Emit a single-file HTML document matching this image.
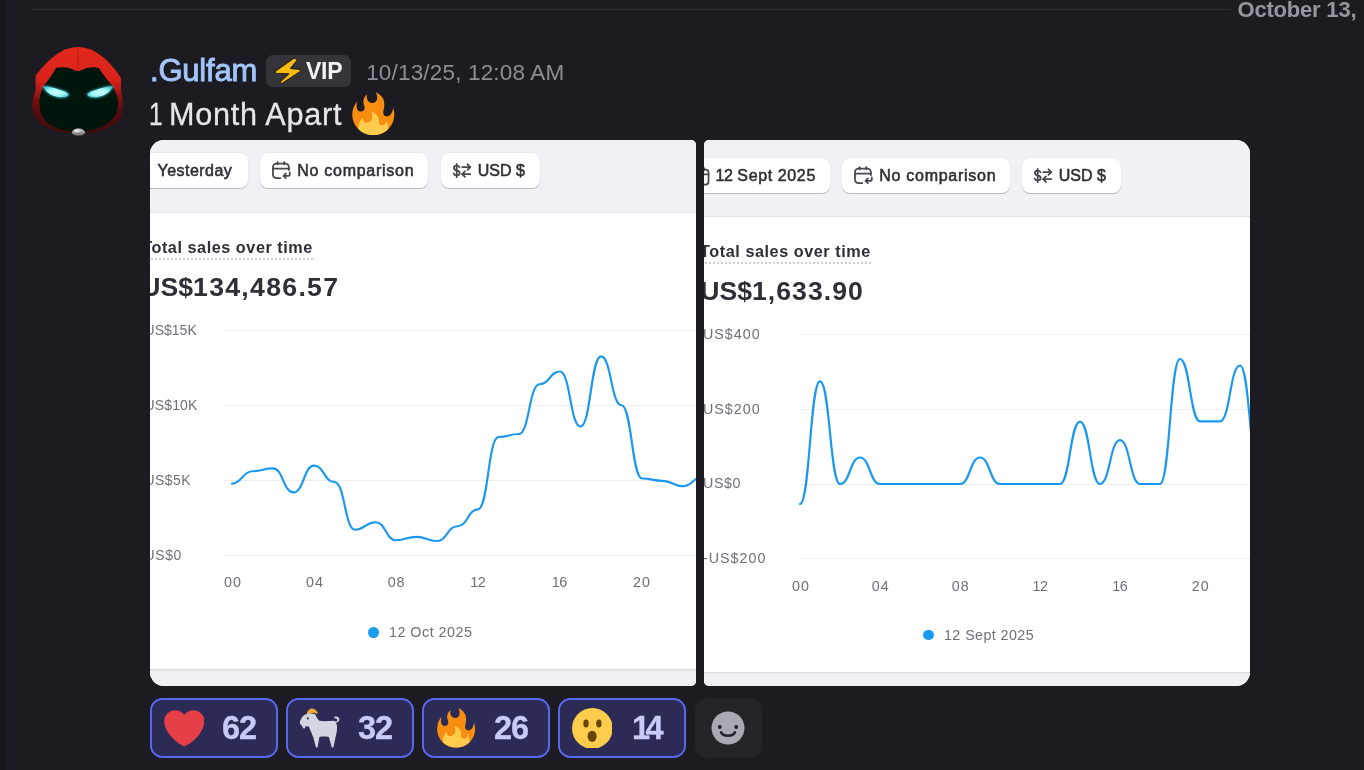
<!DOCTYPE html>
<html lang="en"><head><meta charset="utf-8"><title>Discord message</title>
<style>
*{box-sizing:border-box;margin:0;padding:0}
html,body{width:1364px;height:770px;overflow:hidden;background:#1c1b21}
body{position:relative;font-family:"Liberation Sans",sans-serif;color:#e6e5ea}
.abs{position:absolute;white-space:nowrap;line-height:1}
.stripe{left:0;top:0;width:7px;height:770px;background:linear-gradient(90deg,#151419 0,#151419 70%,#1c1b21 100%)}
.divider{left:32px;top:9px;width:1199px;height:1px;background:#302f36}
.date{left:1237.5px;top:-0.8px;font-size:22px;font-weight:700;color:#97969e;letter-spacing:-0.2px}
.uname{left:150px;top:55px;font-size:31px;color:#a2c5fc;-webkit-text-stroke:0.9px #a2c5fc;letter-spacing:-0.2px}
.vip{left:266px;top:55px;width:85px;height:32px;border-radius:7px;background:#35343b}
.viptxt{left:305.9px;top:59.5px;font-size:23px;letter-spacing:-0.2px;font-weight:700;color:#f2f1f5}
.ts{left:366.2px;top:62px;font-size:22.5px;color:#8f8e97;letter-spacing:0.17px}
.msg{top:98.9px;font-size:30.6px;color:#e6e5ea;-webkit-text-stroke:0.3px #e6e5ea}
.img{position:absolute;overflow:hidden;background:#fff}
.img .in{position:absolute}
.hdr{background:#f1f0f5}
.btn{background:#fff;border-radius:8px;box-shadow:0 1px 0 0 #b9b8bf,0 0 0 0.5px #e4e3e8;height:35px}
.bt{font-size:16px;color:#302f35;-webkit-text-stroke:0.55px #302f35}
.ttl{font-size:16.2px;letter-spacing:0.56px;font-weight:700;color:#302e36}
.big{font-size:26.6px;font-weight:700;color:#302e36}
.ax{font-size:14.3px;color:#706f78;letter-spacing:1px}
.xc{width:40px;text-align:center}
.grid{height:1px;background:#efeef3}
.pill{top:698px;width:128px;height:60px;border-radius:12.5px;background:#2c2b55;box-shadow:inset 0 0 0 1.9px #5a68f2}
.cnt{top:711.8px;font-size:32.6px;letter-spacing:-1px;font-weight:700;color:#c8cbf7;-webkit-text-stroke:0.3px #c8cbf7}
.add{left:695px;top:698px;width:67px;height:60px;border-radius:12px;background:#24232a}
</style></head><body>
<div class="abs stripe"></div>
<div class="abs divider"></div>
<div class="abs date">October 13,</div>

<!-- avatar -->
<svg class="abs" style="left:28px;top:40px" width="100" height="100" viewBox="28 40 100 100">
<defs>
<linearGradient id="hood" gradientUnits="userSpaceOnUse" x1="0" y1="47" x2="0" y2="135"><stop offset="0" stop-color="#e3291e"/><stop offset="0.36" stop-color="#d9231a"/><stop offset="0.47" stop-color="#b81b15"/><stop offset="0.58" stop-color="#821210"/><stop offset="0.74" stop-color="#540c0c"/><stop offset="1" stop-color="#380909"/></linearGradient>
<radialGradient id="eye" cx="0.5" cy="0.55" r="0.6"><stop offset="0" stop-color="#d2fffd"/><stop offset="0.6" stop-color="#9af4f5"/><stop offset="1" stop-color="#4cc6ce"/></radialGradient>
<linearGradient id="clasp" x1="0" y1="0" x2="0" y2="1"><stop offset="0" stop-color="#d4d4d4"/><stop offset="1" stop-color="#686868"/></linearGradient>
<filter id="soft" x="-10%" y="-10%" width="120%" height="120%"><feGaussianBlur stdDeviation="0.5"/></filter>
<filter id="glow" x="-20%" y="-40%" width="140%" height="180%"><feGaussianBlur stdDeviation="0.9"/></filter>
</defs>
<g filter="url(#soft)">
<path d="M78,47.1 C71,47.4 65.5,49.2 62,51 C56.5,54 51.5,58 47.5,62.1 L41,69 L35.8,75 C35.4,80 35.6,85 35.8,89.4 C34.2,94 32.8,98 32.5,102.3 C32.4,107 32.8,111.5 33.8,115.3 C36,120 39.5,123.2 43.6,125.7 C50.5,129.4 58.5,131.8 67,132.9 L89,132.9 C97.5,131.8 105.500,129.400 112.4,125.7 C116.5,123.2 120,120 121.5,115.3 C122.6,111.5 123,107 122.8,102.3 C122.4,98 121.4,93 120.9,89 C121.2,85 121.2,81 120.9,77.7 L115,69.500 L108.500,62.100 C104.500,58 99.5,54 94,51 C90.5,49.2 85,47.4 78,47.100Z" fill="url(#hood)"/>
<path d="M78,47.5 L78,70" stroke="#b61b14" stroke-width="0.7" fill="none"/>
<path d="M55.900,67.900 C60,66.900 64.500,66.900 68.500,67.800 C72,68.800 75,71.100 78,71.200 C81,71.100 84,68.800 87.500,67.800 C91.500,66.900 95,66.900 98.800,67.900 C102,73 106.500,79 111.100,84.200 C114,88.500 116.600,93.500 117.600,98.400 C118.200,103.500 117.800,108.500 116.300,112.700 C114,117.500 110.500,121.500 105.900,124.400 C100,127.800 93.500,129.900 86.400,130.900 L69.600,130.900 C62.500,129.900 56,127.800 50.100,124.400 C45.500,121.500 42.500,117.500 41,112.700 C39.600,108.500 39.200,103.500 39.700,98.400 C40.200,94 41.500,90 44.900,84.200 C49.500,79 53,73 55.900,67.900Z" fill="#021211"/>
</g>
<g filter="url(#glow)" opacity="0.9">
<path d="M42.3,86.1 C47,85.6 51,86.400 54,87.400 C58,88.600 61.500,89.600 64.400,90.600 C66.600,91.700 68.500,93 69.600,94.500 C68.800,95.800 68,96.600 67,97.100 C64,98.200 61,98.200 57.900,97.800 C54,97 50.500,95.300 47.500,93.200 C45.200,91.200 43.500,88.800 42.300,86.100Z" fill="#35b5c0"/>
<path d="M113.700,86.100 C109,85.600 105,86.400 102,87.400 C98,88.600 94.500,89.600 91.600,90.600 C89.400,91.700 87.500,93 86.400,94.500 C87.200,95.800 88,96.600 89,97.100 C92,98.200 95,98.200 98.100,97.800 C102,97 105.500,95.300 108.500,93.200 C110.800,91.200 112.500,88.800 113.700,86.100Z" fill="#35b5c0"/>
</g>
<path d="M43.300,86.600 C47,86.200 51,87 54,88 C58,89.200 61.500,90.200 64,91.200 C66,92.200 67.600,93.300 68.600,94.500 C68,95.500 67.300,96.100 66.500,96.500 C64,97.400 61,97.400 58,97 C54.300,96.300 51,94.700 48.200,92.700 C46,90.900 44.400,88.900 43.300,86.600Z" fill="url(#eye)"/>
<path d="M112.700,86.600 C109,86.200 105,87 102,88 C98,89.200 94.500,90.200 92,91.200 C90,92.200 88.400,93.300 87.400,94.500 C88,95.500 88.700,96.100 89.500,96.500 C92,97.400 95,97.400 98,97 C101.700,96.300 105,94.700 107.800,92.700 C110,90.900 111.600,88.900 112.700,86.600Z" fill="url(#eye)"/>
<ellipse cx="78.400" cy="132.200" rx="6.500" ry="3.600" fill="url(#clasp)"/>
<ellipse cx="77" cy="131.100" rx="2.800" ry="1.300" fill="#f4f4f4" opacity="0.75"/>
</svg>

<div class="abs uname">.Gulfam</div>
<div class="abs vip"></div>
<svg class="abs" style="left:270px;top:54px" width="36" height="34" viewBox="270 54 36 34"><path d="M294,58 L275.2,71.2 L275.6,73.2 L288.8,73.8 L279.3,82.6 L281.8,83.6 L300.4,71.4 L300,69.4 L290.6,68.4 L297.6,59.6 Z" fill="#f8bb12" stroke="#2b2213" stroke-width="1.1" stroke-linejoin="round"/></svg>
<div class="abs viptxt">VIP</div>
<div class="abs ts">10/13/25, 12:08 AM</div>
<div class="abs msg" style="left:149px;transform:scaleX(0.8);transform-origin:left top">1</div><div class="abs msg" style="left:169px;letter-spacing:0.75px">Month Apart</div>
<svg class="abs" style="left:351.3px;top:92.4px" width="44.6" height="43.1" viewBox="0 0 36 36" preserveAspectRatio="none"><use href="#fire"/></svg>

<svg width="0" height="0" style="position:absolute"><defs>
<g id="fire"><path fill="#f88e0f" d="M35 19c0-2.062-.367-4.039-1.040-5.868-.46 5.389-3.333 8.157-6.335 6.868-2.812-1.208-.917-5.917-.777-8.164.236-3.809-.012-8.169-6.931-11.794 2.875 5.5.333 8.917-2.333 9.125-2.958.231-5.667-2.542-4.667-7.042-3.238 2.386-3.332 6.402-2.333 9 1.042 2.708-.042 4.958-2.583 5.208-2.840.280-4.418-3.041-2.963-8.333C2.520 10.965 1 14.805 1 19c0 9.389 7.611 17 17 17s17-7.611 17-17z"/><path fill="#FFCC4D" d="M28.394 23.999c.148 3.084-2.561 4.293-4.019 3.709-2.106-.843-1.541-2.291-2.083-5.291s-2.625-5.083-5.708-6c2.250 6.333-1.247 8.667-3.080 9.084-1.872.426-3.753-.001-3.968-4.007C7.352 23.668 6 26.676 6 30c0 .368.023.730.055 1.090C9.125 34.124 13.342 36 18 36s8.875-1.876 11.945-4.910c.032-.360.055-.722.055-1.090 0-2.187-.584-4.236-1.606-6.001z"/></g>
</defs></svg>

<!-- LEFT IMAGE -->
<div class="img" style="left:150px;top:140px;width:546px;height:546px;border-radius:14px 5px 5px 14px">
 <div class="in" style="left:-150px;top:-140px;width:1364px;height:770px">
  <div class="abs hdr" style="left:150px;top:140px;width:546px;height:72px"></div>
  <div class="abs" style="left:150px;top:212px;width:546px;height:1px;background:#e6e5ea"></div>
  <div class="abs hdr" style="left:150px;top:669px;width:546px;height:17px;border-top:1px solid #dcdbe1;box-shadow:inset 0 1px 0 #e8e7ec"></div>
  <div class="abs btn" style="left:120px;top:153px;width:128px"></div>
  <div class="abs bt" style="left:157.5px;top:162.8px;letter-spacing:0.47px">Yesterday</div>
  <div class="abs btn" style="left:260px;top:153px;width:168px"></div>
  <svg class="abs" style="left:270px;top:159px" width="23" height="23" viewBox="0 0 20 20"><use href="#cal"/></svg>
  <div class="abs bt" style="left:297.3px;top:162.8px;letter-spacing:0.72px">No comparison</div>
  <div class="abs btn" style="left:441px;top:153px;width:99px"></div>
  <svg class="abs" style="left:450px;top:159px" width="23" height="23" viewBox="0 0 20 20"><use href="#cur"/></svg>
  <div class="abs bt" style="left:477.8px;top:162.8px">USD $</div>
  <div class="abs ttl" style="left:142.2px;top:239px;border-bottom:2px dotted #cfced4;padding-bottom:3px">Total sales over time</div>
  <div class="abs big" style="left:141.3px;top:274px;letter-spacing:1.32px"><span style="letter-spacing:0">US$</span>134,486.57</div>
  <div class="abs ax" style="left:144.6px;top:323px;font-size:14px;letter-spacing:0">US$15K</div>
  <div class="abs ax" style="left:144.6px;top:398px;font-size:14px;letter-spacing:0.1px">US$10K</div>
  <div class="abs ax" style="left:144.6px;top:472.5px;font-size:14px;letter-spacing:0.4px">US$5K</div>
  <div class="abs ax" style="left:144.6px;top:547.8px;font-size:14px;letter-spacing:0.55px">US$0</div>
  <div class="abs grid" style="left:224px;top:330px;width:478px"></div>
  <div class="abs grid" style="left:224px;top:405px;width:478px"></div>
  <div class="abs grid" style="left:224px;top:480px;width:478px"></div>
  <div class="abs grid" style="left:224px;top:555px;width:478px"></div>
  <svg class="abs" style="left:0;top:0" width="1364" height="770"><path d="M232.0,483.6C242.2,483.6 242.2,471.2 252.5,471.2C262.8,471.2 262.8,468.4 273.0,468.4C283.2,468.4 283.2,492.4 293.5,492.4C303.8,492.4 303.8,465.7 314.0,465.7C324.2,465.7 324.2,482.0 334.5,482.0C344.8,482.0 344.8,529.7 355.0,529.7C365.2,529.7 365.2,522.2 375.5,522.2C385.8,522.2 385.8,540.2 396.0,540.2C406.2,540.2 406.2,536.9 416.5,536.9C426.8,536.9 426.8,541.0 437.0,541.0C447.2,541.0 447.2,526.2 457.5,526.2C467.8,526.2 467.8,509.3 478.0,509.3C488.2,509.3 488.2,437.0 498.5,437.0C508.8,437.0 508.8,434.0 519.0,434.0C529.2,434.0 529.2,384.2 539.5,384.2C549.8,384.2 549.8,371.5 560.0,371.5C570.2,371.5 570.2,426.5 580.5,426.5C590.8,426.5 590.8,356.3 601.0,356.3C611.2,356.3 611.2,405.2 621.5,405.2C631.8,405.2 631.8,478.5 642.0,478.5C652.2,478.5 652.2,480.8 662.5,480.8C672.8,480.8 672.8,486.2 683.0,486.2C693.2,486.2 693.2,476.3 703.5,476.3" fill="none" stroke="#1a97ee" stroke-width="2.15" stroke-linecap="round" stroke-linejoin="round"/></svg>
  <div class="abs ax xc" style="left:212.9px;top:575.3px;letter-spacing:1px">00</div>
  <div class="abs ax xc" style="left:295.0px;top:575.3px;letter-spacing:1px">04</div>
  <div class="abs ax xc" style="left:376.6px;top:575.3px;letter-spacing:1px">08</div>
  <div class="abs ax xc" style="left:457.8px;top:575.3px;letter-spacing:-0.4px">12</div>
  <div class="abs ax xc" style="left:539.2px;top:575.3px;letter-spacing:-0.4px">16</div>
  <div class="abs ax xc" style="left:621.9px;top:575.3px;letter-spacing:1px">20</div>
  <div class="abs" style="left:368.4px;top:626.8px;width:10.8px;height:10.8px;border-radius:50%;background:#189cf1"></div>
  <div class="abs ax" style="left:389px;top:625px;letter-spacing:0.5px">12 Oct 2025</div>
 </div>
</div>

<!-- RIGHT IMAGE -->
<div class="img" style="left:704px;top:140px;width:546px;height:546px;border-radius:5px 14px 14px 5px">
 <div class="in" style="left:-704px;top:-140px;width:1364px;height:770px">
  <div class="abs hdr" style="left:704px;top:140px;width:546px;height:77px"></div>
  <div class="abs" style="left:704px;top:216px;width:546px;height:1px;background:#e6e5ea"></div>
  <div class="abs hdr" style="left:704px;top:672px;width:546px;height:14px;border-top:1px solid #dcdbe1;box-shadow:inset 0 1px 0 #e8e7ec"></div>
  <div class="abs btn" style="left:680px;top:158px;width:150px"></div>
  <svg class="abs" style="left:688.5px;top:164.5px" width="23" height="23" viewBox="0 0 20 20"><use href="#calp"/></svg>
  <div class="abs bt" style="left:715.5px;top:167.8px;letter-spacing:0.62px"><span style="letter-spacing:-0.5px">12</span> Sept 2025</div>
  <div class="abs btn" style="left:842px;top:158px;width:168px"></div>
  <svg class="abs" style="left:852px;top:164px" width="23" height="23" viewBox="0 0 20 20"><use href="#cal"/></svg>
  <div class="abs bt" style="left:879.3px;top:167.8px;letter-spacing:0.72px">No comparison</div>
  <div class="abs btn" style="left:1022px;top:158px;width:99px"></div>
  <svg class="abs" style="left:1031px;top:164px" width="23" height="23" viewBox="0 0 20 20"><use href="#cur"/></svg>
  <div class="abs bt" style="left:1058.8px;top:167.8px">USD $</div>
  <div class="abs ttl" style="left:700.1px;top:243px;border-bottom:2px dotted #cfced4;padding-bottom:3px">Total sales over time</div>
  <div class="abs big" style="left:700.2px;top:278px;letter-spacing:1.06px"><span style="letter-spacing:0">US$</span>1,633.90</div>
  <div class="abs ax" style="left:703px;top:327px">US$400</div>
  <div class="abs ax" style="left:703px;top:402px">US$200</div>
  <div class="abs ax" style="left:703px;top:476px;letter-spacing:0.6px">US$0</div>
  <div class="abs ax" style="left:703px;top:551px">-US$200</div>
  <div class="abs grid" style="left:800px;top:334px;width:470px"></div>
  <div class="abs grid" style="left:800px;top:409px;width:470px"></div>
  <div class="abs grid" style="left:800px;top:484px;width:470px"></div>
  <div class="abs grid" style="left:800px;top:558px;width:470px"></div>
  <svg class="abs" style="left:0;top:0" width="1364" height="770"><path d="M800.0,504.0C810.0,504.0 810.0,381.3 820.0,381.3C830.0,381.3 830.0,484.0 840.0,484.0C850.0,484.0 850.0,457.5 860.0,457.5C870.0,457.5 870.0,484.0 880.0,484.0C890.0,484.0 890.0,484.0 900.0,484.0C910.0,484.0 910.0,484.0 920.0,484.0C930.0,484.0 930.0,484.0 940.0,484.0C950.0,484.0 950.0,484.0 960.0,484.0C970.0,484.0 970.0,457.5 980.0,457.5C990.0,457.5 990.0,484.0 1000.0,484.0C1010.0,484.0 1010.0,484.0 1020.0,484.0C1030.0,484.0 1030.0,484.0 1040.0,484.0C1050.0,484.0 1050.0,484.0 1060.0,484.0C1070.0,484.0 1070.0,421.6 1080.0,421.6C1090.0,421.6 1090.0,484.0 1100.0,484.0C1110.0,484.0 1110.0,440.1 1120.0,440.1C1130.0,440.1 1130.0,484.0 1140.0,484.0C1150.0,484.0 1150.0,484.0 1160.0,484.0C1170.0,484.0 1170.0,359.0 1180.0,359.0C1190.0,359.0 1190.0,421.4 1200.0,421.4C1210.0,421.4 1210.0,421.4 1220.0,421.4C1230.0,421.4 1230.0,365.5 1240.0,365.5C1250.0,365.5 1250.0,478.0 1260.0,478.0" fill="none" stroke="#1a97ee" stroke-width="2.15" stroke-linecap="round" stroke-linejoin="round"/></svg>
  <div class="abs ax xc" style="left:781.0px;top:578.5px;letter-spacing:1px">00</div>
  <div class="abs ax xc" style="left:860.8px;top:578.5px;letter-spacing:1px">04</div>
  <div class="abs ax xc" style="left:940.7px;top:578.5px;letter-spacing:1px">08</div>
  <div class="abs ax xc" style="left:1020.0px;top:578.5px;letter-spacing:-0.4px">12</div>
  <div class="abs ax xc" style="left:1099.8px;top:578.5px;letter-spacing:-0.4px">16</div>
  <div class="abs ax xc" style="left:1180.8px;top:578.5px;letter-spacing:1px">20</div>
  <div class="abs" style="left:923.4px;top:629.5px;width:10.8px;height:10.8px;border-radius:50%;background:#189cf1"></div>
  <div class="abs ax" style="left:944px;top:628px;letter-spacing:0.42px">12 Sept 2025</div>
 </div>
</div>

<svg width="0" height="0" style="position:absolute"><defs>
<g id="cal" fill="none" stroke="#48474d" stroke-width="1.55" stroke-linecap="round" stroke-linejoin="round">
 <path d="M9,16.6H5.6A3,3 0 0 1 2.6,13.6V7A3,3 0 0 1 5.6,4H13.4A3,3 0 0 1 16.4,7V9.6"/>
 <path d="M2.6,8.4H16.4"/><path d="M6.6,2.8V4.6"/><path d="M12.4,2.8V4.6"/>
 <path d="M17.2,11.6V13.2A1.4,1.4 0 0 1 15.8,14.6H12"/><path d="M13.8,12.6L11.8,14.6L13.8,16.6"/>
</g>
<g id="calp" fill="none" stroke="#48474d" stroke-width="1.55" stroke-linecap="round" stroke-linejoin="round">
 <rect x="3" y="4" width="14" height="13" rx="2.6"/><path d="M3,8.2H17"/><path d="M6.8,2.8V4.6"/><path d="M13.2,2.8V4.6"/>
</g>
<g id="cur" fill="none" stroke="#48474d" stroke-width="1.55" stroke-linecap="round" stroke-linejoin="round">
 <path d="M8.2,7.2C7.8,6.2 6.9,5.7 5.8,5.7C4.4,5.7 3.4,6.5 3.4,7.7C3.4,9 4.4,9.6 5.8,9.9C7.3,10.2 8.4,10.8 8.4,12.2C8.4,13.5 7.3,14.3 5.8,14.3C4.5,14.3 3.5,13.7 3.1,12.6"/>
 <path d="M5.8,4.2V15.8"/>
 <path d="M10.6,7H17.6"/><path d="M15.2,4.6L17.6,7L15.2,9.4"/>
 <path d="M17.6,13.2H10.6"/><path d="M13,10.8L10.6,13.2L13,15.6"/>
</g>
</defs></svg>

<!-- reactions -->
<div class="abs pill" style="left:150px"></div>
<svg class="abs" style="left:163.7px;top:707.8px" width="40.6" height="40.6" viewBox="0 0 36 36"><path fill="#e63f47" d="M35.885 11.833c0-5.450-4.418-9.868-9.867-9.868-3.308 0-6.227 1.633-8.018 4.129-1.791-2.496-4.710-4.129-8.017-4.129-5.450 0-9.868 4.417-9.868 9.868 0 .772.098 1.520.266 2.241C1.751 22.587 11.216 31.568 18 34.034c6.783-2.466 16.249-11.447 17.617-19.959.170-.721.268-1.469.268-2.242z"/></svg>
<div class="abs cnt" style="left:222px">62</div>

<div class="abs pill" style="left:286px"></div>
<svg class="abs" style="left:286px;top:695px" width="130" height="73" viewBox="286 695 130 73">
 <path d="M306.7,714.6 C307,711 309.5,708.4 312.6,708.6 C314.8,709 316.6,710.8 317.9,713 L316.6,713.9 C315,712.6 313,712.3 311.4,713.2 Z" fill="#f0a92f"/>
 <path d="M314.6,714.1 C312.8,713.4 310.8,713.3 308.9,713.6 C306.4,714 304.2,715 302.7,716.4 C301.4,718 300.2,720 299.8,722.2 C299.8,723.4 300.4,724.5 301.3,725 L302.2,726 C302.4,727.2 303.2,728.4 304.1,728.8 C305,728.2 305.5,727.2 305.5,726 C306.6,726.5 307.8,726.6 308.9,726.5 C309.4,728.6 310.2,730.6 311.3,732.2 C311.8,733.8 312.5,735.4 313.2,736.9 L316,747.4 L317.5,747.4 L319.4,736.9 C321,736.5 322.6,736.4 324.1,736.5 C325.7,736.5 327.3,736.6 328.9,736.9 L331.8,747.4 L333.4,747.4 L336,735 C336.8,732.4 337.2,729.4 337,726.5 C336.9,725 336.4,723.5 335.9,722.6 C337.4,722.4 338.6,721.6 339.2,720.4 C339.6,718.8 339,717.6 337.8,717.1 C336.6,716.5 335.2,716.5 334.1,716.9 L334.6,718.4 C335.6,718.2 336.6,718.5 337.1,719.2 C337.5,720 337.2,720.9 336.4,721.4 C335.6,721.6 334.6,721.2 333.7,720.7 C330.6,720.9 327.4,721.2 324.1,721.2 C322.5,721.2 320.9,721 319.4,720.7 C318.2,719.6 317.2,718.3 316.5,716.9 C316,715.8 315.4,714.8 314.6,714.1Z" fill="#d3d6e2"/>
 <ellipse cx="307.9" cy="718.4" rx="1" ry="1.1" fill="#2f3247"/>
</svg>
<div class="abs cnt" style="left:358px">32</div>

<div class="abs pill" style="left:422px"></div>
<svg class="abs" style="left:435.9px;top:708.3px" width="40.3" height="39.6" viewBox="0 0 36 36" preserveAspectRatio="none"><use href="#fire"/></svg>
<div class="abs cnt" style="left:494px">26</div>

<div class="abs pill" style="left:558px"></div>
<svg class="abs" style="left:571.8px;top:707.8px" width="40.7" height="40.7" viewBox="0 0 36 36">
 <circle cx="18" cy="18" r="18" fill="#FFCC4D"/>
 <ellipse cx="17.8" cy="25.1" rx="4" ry="5" fill="#664500"/>
 <ellipse cx="12.4" cy="13.7" rx="2.4" ry="3.5" fill="#664500"/>
 <ellipse cx="23.8" cy="13.7" rx="2.4" ry="3.5" fill="#664500"/>
</svg>
<div class="abs cnt" style="left:632px;letter-spacing:-4.5px">14</div>

<div class="abs add"></div>
<svg class="abs" style="left:711px;top:711px" width="34" height="34" viewBox="0 0 34 34">
 <circle cx="17" cy="17" r="16.5" fill="#aaa9b1"/>
 <circle cx="8.8" cy="15.9" r="2" fill="#24232a"/><circle cx="25.2" cy="15.9" r="2" fill="#24232a"/>
 <path d="M10,21.4 C12.4,26 21.6,26 24,21.4" fill="none" stroke="#24232a" stroke-width="2.5" stroke-linecap="round"/>
</svg>
</body></html>
